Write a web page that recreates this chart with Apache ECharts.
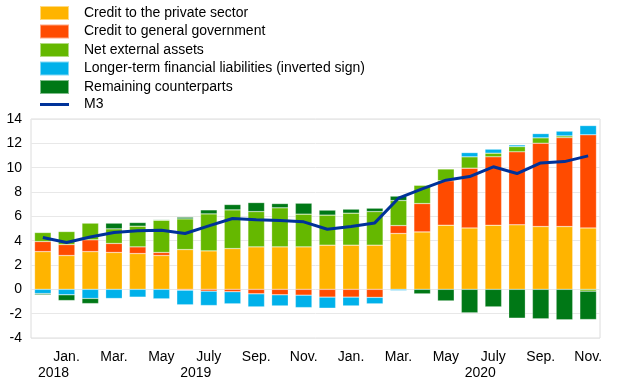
<!DOCTYPE html>
<html>
<head>
<meta charset="utf-8">
<script src="https://cdn.jsdelivr.net/npm/echarts@6/dist/echarts.min.js"></script>
<style>
html,body{margin:0;padding:0;background:#fff;}
#chart{width:620px;height:387px;}
</style>
</head>
<body>
<div id="chart"></div>
<script>
// 24 monthly categories
var categories = ['c1','c2','c3','c4','c5','c6','c7','c8','c9','c10','c11','c12','c13','c14','c15','c16','c17','c18','c19','c20','c21','c22','c23','c24'];
var monthLabels = ['', 'Jan.', '', 'Mar.', '', 'May', '', 'July', '', 'Sep.', '', 'Nov.', '', 'Jan.', '', 'Mar.', '', 'May', '', 'July', '', 'Sep.', '', 'Nov.'];
var yearLabels = ['', '2018', '', '', '', '', '', '2019', '', '', '', '', '', '', '', '', '', '', '', '2020', '', '', '', ''];

var seriesNames = ['Credit to the private sector', 'Credit to general government', 'Net external assets', 'Longer-term financial liabilities (inverted sign)', 'Remaining counterparts', 'M3'];

var privateSector = [3.1, 2.78, 3.1, 3.03, 2.94, 2.78, 3.27, 3.16, 3.35, 3.49, 3.49, 3.49, 3.63, 3.63, 3.63, 4.59, 4.72, 5.27, 5.05, 5.27, 5.3, 5.16, 5.16, 5.05];
var generalGov = [0.83, 0.9, 0.97, 0.74, 0.55, 0.25, -0.07, -0.15, -0.2, -0.37, -0.45, -0.48, -0.64, -0.64, -0.66, 0.65, 2.33, 3.65, 4.91, 5.62, 6.0, 6.85, 7.31, 7.65];
var netExternal = [0.74, 1.07, 1.37, 1.2, 1.7, 2.65, 2.52, 3.04, 3.18, 2.9, 3.21, 2.69, 2.47, 2.63, 2.76, 2.06, 1.51, 0.98, 0.93, 0.3, 0.43, 0.44, 0.14, -0.15];
var longerTerm = [-0.35, -0.45, -0.75, -0.75, -0.64, -0.78, -1.2, -1.18, -0.99, -1.07, -0.91, -1.02, -0.91, -0.72, -0.53, -0.1, 0.03, 0, 0.35, 0.33, 0.14, 0.35, 0.39, 0.76];
var remaining = [-0.1, -0.47, -0.42, 0.47, 0.3, 0.05, 0.14, 0.33, 0.44, 0.74, 0.35, 0.9, 0.41, 0.33, 0.28, 0.36, -0.37, -0.95, -1.93, -1.44, -2.37, -2.42, -2.5, -2.33];
var m3 = [4.26, 3.85, 4.3, 4.67, 4.81, 4.86, 4.59, 5.22, 5.82, 5.71, 5.65, 5.55, 4.94, 5.16, 5.46, 7.49, 8.26, 8.97, 9.27, 10.07, 9.52, 10.39, 10.5, 10.97];

var colors = ['#ffb400', '#ff4b00', '#65b800', '#00b1ea', '#007816', '#003299'];

var chart = echarts.init(document.getElementById('chart'), null, {renderer: 'canvas'});

function barSeries(i, data) {
  return {
    name: seriesNames[i],
    type: 'bar',
    stack: 'total',
    data: data,
    barCategoryGap: '30%',
    itemStyle: {color: colors[i], borderColor: 'rgba(255,255,255,0.5)', borderWidth: 0.5},
    emphasis: {disabled: true}
  };
}

var legendData = seriesNames.map(function (n, i) {
  return i < 5 ? {name: n, icon: 'rect'} : {name: n, icon: 'path://M0,0 L29,0 L29,3 L0,3 Z'};
});

var option = {
  animation: false,
  textStyle: {fontFamily: 'Liberation Sans, Arial, sans-serif'},
  legend: {
    orient: 'vertical',
    left: 39,
    top: 5,
    itemWidth: 29,
    itemHeight: 14,
    itemGap: 2.5,
    padding: 0,
    symbolKeepAspect: true,
    textStyle: {fontSize: 14, color: '#000', padding: [0, 0, 0, 10], lineHeight: 14},
    data: legendData
  },
  grid: {
    left: 31, right: 20, top: 119, bottom: 49,
    show: true, borderColor: '#dcdcdc', borderWidth: 1
  },
  xAxis: {
    type: 'category',
    data: categories,
    axisLine: {show: false},
    axisTick: {show: false},
    axisLabel: {
      interval: 0,
      margin: 11,
      formatter: function (v, idx) {
        var m = monthLabels[idx];
        if (!m) return '';
        var y = yearLabels[idx];
        return y ? '{m|' + m + '}\n{y|' + y + '}' : '{m|' + m + '}';
      },
      rich: {
        m: {fontSize: 14, color: '#000', lineHeight: 16},
        y: {fontSize: 14, color: '#000', lineHeight: 16, padding: [0, 26, 0, 0]}
      }
    }
  },
  yAxis: {
    type: 'value',
    min: -4, max: 14, interval: 2,
    axisLine: {show: false},
    axisTick: {show: false},
    axisLabel: {fontSize: 14, color: '#000', margin: 9},
    splitLine: {lineStyle: {color: '#e8e8e8', width: 1}}
  },
  series: [
    barSeries(0, privateSector),
    barSeries(1, generalGov),
    barSeries(2, netExternal),
    barSeries(3, longerTerm),
    barSeries(4, remaining),
    {
      name: seriesNames[5],
      type: 'line',
      data: m3,
      symbol: 'none',
      z: 5,
      lineStyle: {color: colors[5], width: 3},
      itemStyle: {color: colors[5]},
      emphasis: {disabled: true}
    }
  ]
};
chart.setOption(option);
</script>
</body>
</html>
